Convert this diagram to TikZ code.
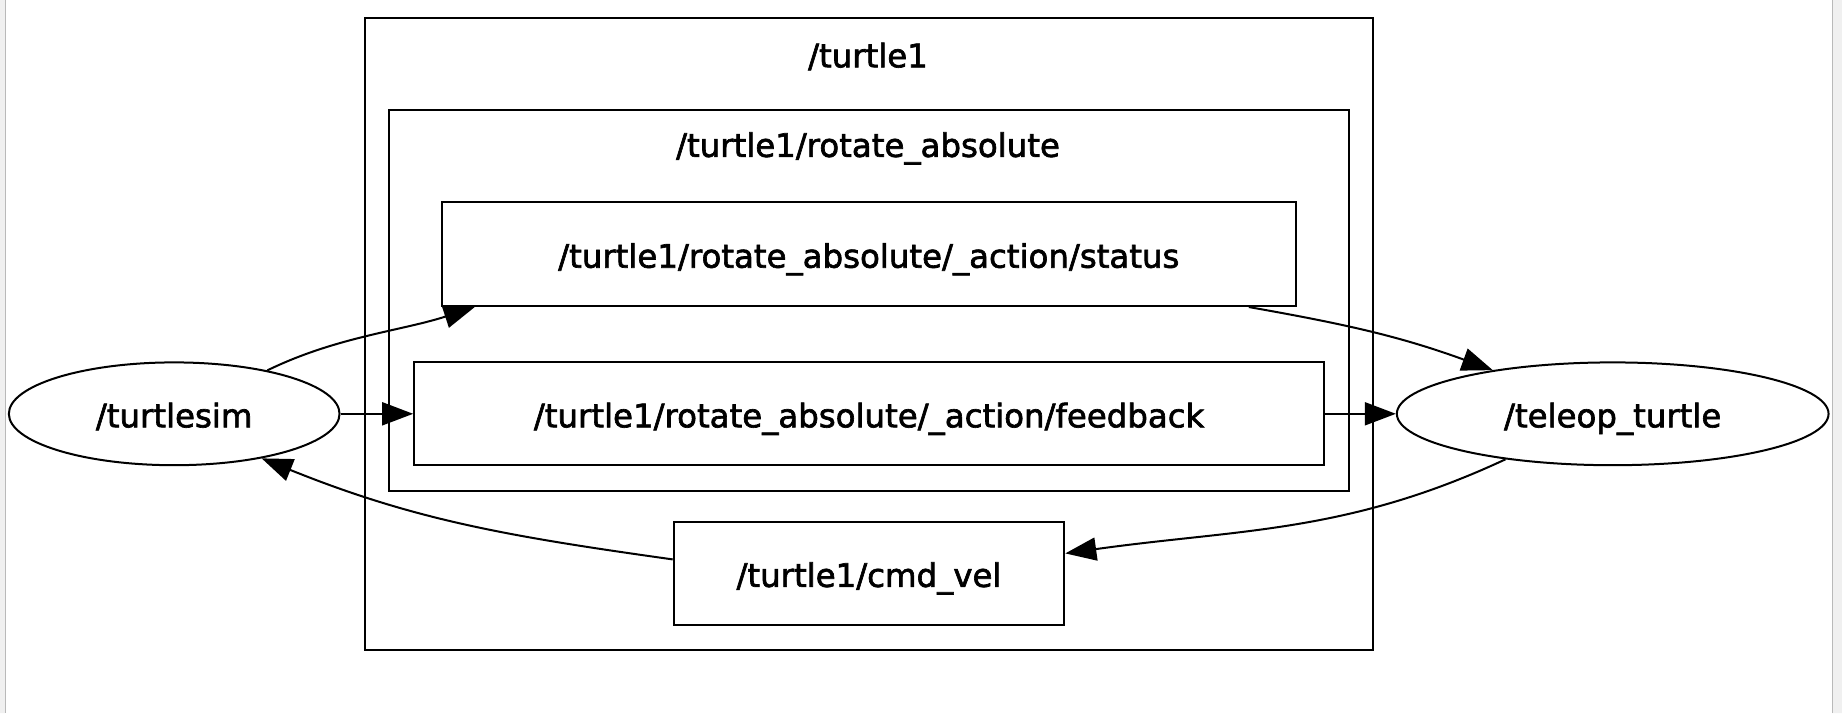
\documentclass[tikz,border=0pt]{standalone}
\usepackage{fontspec}
\setmainfont{DejaVu Sans}[BoldFont={DejaVu Sans},BoldFeatures={FakeBold=2}]
\usetikzlibrary{shapes.geometric,arrows.meta}

\begin{document}
\begin{tikzpicture}[x=1pt,y=1pt,line width=2pt,
  font=\fontsize{32.4pt}{38pt}\selectfont\bfseries,
  topic/.style={rectangle,draw,inner sep=0pt,text height=27pt,text depth=0pt},
  rosnode/.style={ellipse,draw,inner sep=0pt,minimum height=102.8pt,text height=27pt,text depth=0pt},
  edge/.style={-{Triangle[length=31pt,width=23pt]}}]

\useasboundingbox (0,0) rectangle (1842,-713);

% viewer frame
\fill[gray!12] (0,0) rectangle (5,-713) (1832,0) rectangle (1842,-713);
\draw[gray!55,line width=1pt] (5,0) -- (5,-713) (1832,0) -- (1832,-713);

% namespaces
\draw (365.4,-18.2) rectangle (1372.7,-650.2);
\node[anchor=base] (turtle1) at (868,-67.3) {/turtle1};
\draw (388.9,-109.6) rectangle (1348.6,-490.6);
\node[anchor=base] (rotabs) at (868,-156.9) {/turtle1/rotate\_absolute};

% topics
\node[topic,minimum width=854.1pt,minimum height=103.7pt] (status) at (868.8,-254.2)
      {/turtle1/rotate\_absolute/\_action/status};
\node[topic,minimum width=909.9pt,minimum height=102.8pt] (feedback) at (869.1,-413.8)
      {/turtle1/rotate\_absolute/\_action/feedback};
\node[topic,minimum width=390.6pt,minimum height=103.7pt] (cmdvel) at (869,-573.4)
      {/turtle1/cmd\_vel};

% nodes
\node[rosnode,minimum width=330.7pt] (turtlesim) at (174.2,-413.8) {/turtlesim};
\node[rosnode,minimum width=431.7pt] (teleop) at (1612.7,-413.8) {/teleop\_turtle};

% edges
\draw[edge] (turtlesim.25) to[out=26,in=198,looseness=0.9] ([xshift=34pt]status.south west);
\draw[edge] (turtlesim) -- (feedback);
\draw[edge] ([xshift=-48pt]status.south east) to[out=-10,in=160] (teleop.160);
\draw[edge] (feedback) -- (teleop);
\draw[edge] (teleop.203) to[out=205,in=8] ([yshift=20pt]cmdvel.east);
\draw[edge] ([yshift=14pt]cmdvel.west) to[out=172,in=-22] (turtlesim.-27);

\end{tikzpicture}
\end{document}
